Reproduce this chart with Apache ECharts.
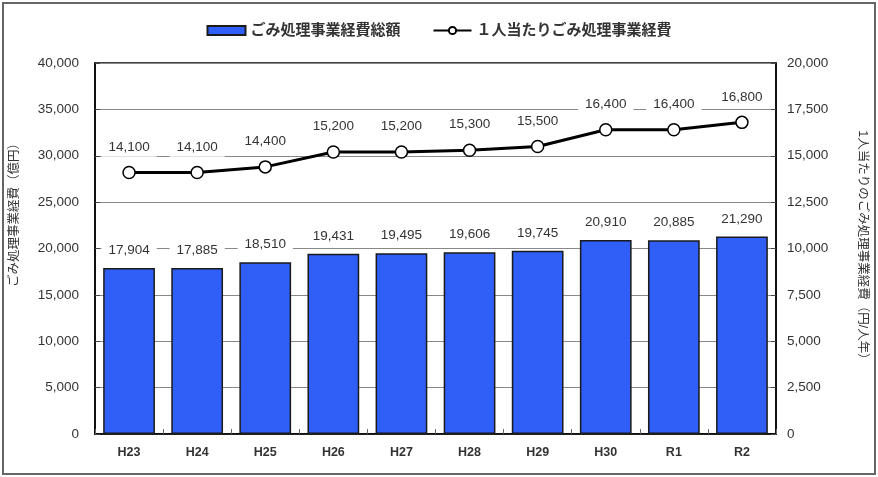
<!DOCTYPE html>
<html><head><meta charset="utf-8">
<script src="https://cdn.jsdelivr.net/npm/echarts@6/dist/echarts.min.js"></script>
<style>html,body{margin:0;padding:0;background:#fff;}#c{width:878px;height:477px;}</style>
</head><body><div id="c"></div>
<script>
const categories = ['H23','H24','H25','H26','H27','H28','H29','H30','R1','R2'];
const totalCost = [17904,17885,18510,19431,19495,19606,19745,20910,20885,21290];
const perCapita = [14100,14100,14400,15200,15200,15300,15500,16400,16400,16800];
const barName = 'ごみ処理事業経費総額';
const lineName = '１人当たりごみ処理事業経費';
const leftTitle = 'ごみ処理事業経費（億円）';
const rightTitle = '1人当たりのごみ処理事業経費（円/人年）';

const font = '"Liberation Sans", Arial, "Noto Sans CJK JP", sans-serif';
const txt = '#333';
const chart = echarts.init(document.getElementById('c'), null, {renderer:'canvas'});
const fmt = v => v.toLocaleString('en-US');
chart.setOption({
  animation:false,
  textStyle:{fontFamily:font},
  graphic:[
    {type:'rect', shape:{x:3,y:3,width:872,height:471}, style:{fill:null, stroke:'#666', lineWidth:2}, z:-1},
    {type:'text', x:15, y:212, rotation:Math.PI/2, style:{text:leftTitle, fontSize:12.5, fill:txt, fontFamily:font, align:'center', verticalAlign:'middle'}},
    {type:'text', x:862, y:248, rotation:-Math.PI/2, style:{text:rightTitle, fontSize:12.5, fill:txt, fontFamily:font, align:'center', verticalAlign:'middle'}}
  ],
  legend:{
    top:18, left:'center', itemGap:32, itemWidth:38, itemHeight:9,
    textStyle:{fontSize:15, color:txt, fontWeight:'bold', fontFamily:font},
    data:[
      {name:barName, icon:'rect'},
      {name:lineName}
    ]
  },
  grid:{left:95, right:102, top:63, bottom:43, show:true, borderColor:'#000', borderWidth:1.5, containLabel:false},
  xAxis:{
    type:'category', data:categories, boundaryGap:true,
    axisLine:{lineStyle:{color:'#000', width:1.5}},
    axisTick:{show:true, inside:true, length:5, lineStyle:{color:'#666'}},
    axisLabel:{color:txt, fontSize:12.5, fontWeight:'bold', margin:12, fontFamily:font}
  },
  yAxis:[
    {type:'value', min:0, max:40000, interval:5000,
     axisLine:{show:true, lineStyle:{color:'#000', width:1.5}},
     axisTick:{show:true, inside:true, length:5, lineStyle:{color:'#444'}},
     axisLabel:{color:txt, fontSize:13.5, margin:16, formatter:fmt},
     splitLine:{show:true, lineStyle:{color:'#888', width:1.2}}},
    {type:'value', min:0, max:20000, interval:2500,
     axisLine:{show:true, lineStyle:{color:'#000', width:1.5}},
     axisTick:{show:true, inside:true, length:5, lineStyle:{color:'#444'}},
     axisLabel:{color:txt, fontSize:13.5, margin:11, formatter:fmt},
     splitLine:{show:false}}
  ],
  series:[
    {name:barName, type:'bar', yAxisIndex:0, data:totalCost, barWidth:'76%',
     itemStyle:{color:'#2f5ff6', borderColor:'#1a1a1a', borderWidth:1.5},
     label:{show:true, position:'top', distance:8, color:txt, fontSize:13.5, backgroundColor:'#fff', padding:[3,7], formatter:p=>fmt(p.value)},
     z:2},
    {name:lineName, type:'line', yAxisIndex:1, data:perCapita,
     symbol:'circle', symbolSize:12,
     lineStyle:{color:'#000', width:3},
     itemStyle:{color:'#fff', borderColor:'#000', borderWidth:1.5},
     label:{show:true, position:'top', distance:9, color:txt, fontSize:13.5, backgroundColor:'#fff', padding:[3,7], formatter:p=>fmt(p.value)},
     z:3}
  ]
});
</script></body></html>
